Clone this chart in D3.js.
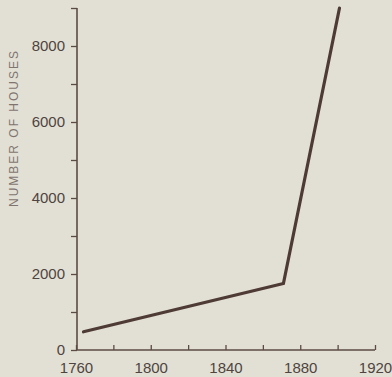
<!DOCTYPE html>
<html><head><meta charset="utf-8">
<script src="https://cdn.jsdelivr.net/npm/d3@7"></script>
<style>
html,body{margin:0;padding:0;background:#e2e0d5;}
svg{display:block;}
</style></head>
<body>
<svg id="c" width="392" height="377"></svg>
<script>
const years = [1764, 1871, 1901];
const houses = [480, 1750, 9000];
const xTickValues = [1760, 1780, 1800, 1820, 1840, 1860, 1880, 1900, 1920];
const xTickLabels = ["1760", "", "1800", "", "1840", "", "1880", "", "1920"];
const yTickValues = [0, 1000, 2000, 3000, 4000, 5000, 6000, 7000, 8000, 9000];
const yTickLabels = ["0", "", "2000", "", "4000", "", "6000", "", "8000", ""];
const yTitle = "NUMBER OF HOUSES";

const svg = d3.select("#c");
const axisColor = "#5b4b45";
const x = d3.scaleLinear().domain([1760, 1920]).range([76, 375]);
const y = d3.scaleLinear().domain([0, 9000]).range([350, 8]);

// x axis
const gx = svg.append("g").attr("transform", "translate(0,350)")
  .call(d3.axisBottom(x).tickValues(xTickValues).tickSize(-5).tickPadding(10)
    .tickFormat((d,i) => xTickLabels[i]));
gx.select(".domain").attr("stroke", axisColor).attr("stroke-width", 1.6).attr("d", `M${x(1760)},0H${x(1920)}`);
gx.selectAll(".tick line").attr("stroke", axisColor).attr("stroke-width", 1.3);
gx.selectAll(".tick text").attr("fill", "#4e4440").attr("font-family", "Liberation Sans, Arial, sans-serif")
  .attr("font-size", 15).attr("dy", "0.71em").attr("y", 12);

// y axis
const gy = svg.append("g").attr("transform", `translate(${x(1760)+1},0)`)
  .call(d3.axisLeft(y).tickValues(yTickValues).tickSize(6).tickPadding(6)
    .tickFormat((d,i) => yTickLabels[i]));
gy.select(".domain").attr("stroke", axisColor).attr("stroke-width", 1.6).attr("d", `M0,${y(0)}V${y(9000)}`);
gy.selectAll(".tick line").attr("stroke", axisColor).attr("stroke-width", 1.3);
gy.selectAll(".tick text").attr("fill", "#4e4440").attr("font-family", "Liberation Sans, Arial, sans-serif")
  .attr("font-size", 15);

// y title
svg.append("text")
  .attr("transform", `translate(18,128) rotate(-90)`)
  .attr("text-anchor", "middle")
  .attr("fill", "#7f756f")
  .attr("font-family", "Liberation Sans, Arial, sans-serif")
  .attr("font-size", 12)
  .attr("letter-spacing", 2)
  .text(yTitle);

// line
const data = years.map((d,i) => ({year: d, v: houses[i]}));
svg.append("path").datum(data)
  .attr("fill", "none").attr("stroke", "#4f3b36").attr("stroke-width", 3.2)
  .attr("stroke-linejoin", "miter").attr("stroke-linecap", "round")
  .attr("d", d3.line().x(d => x(d.year)).y(d => y(d.v)));
</script>
</body></html>
